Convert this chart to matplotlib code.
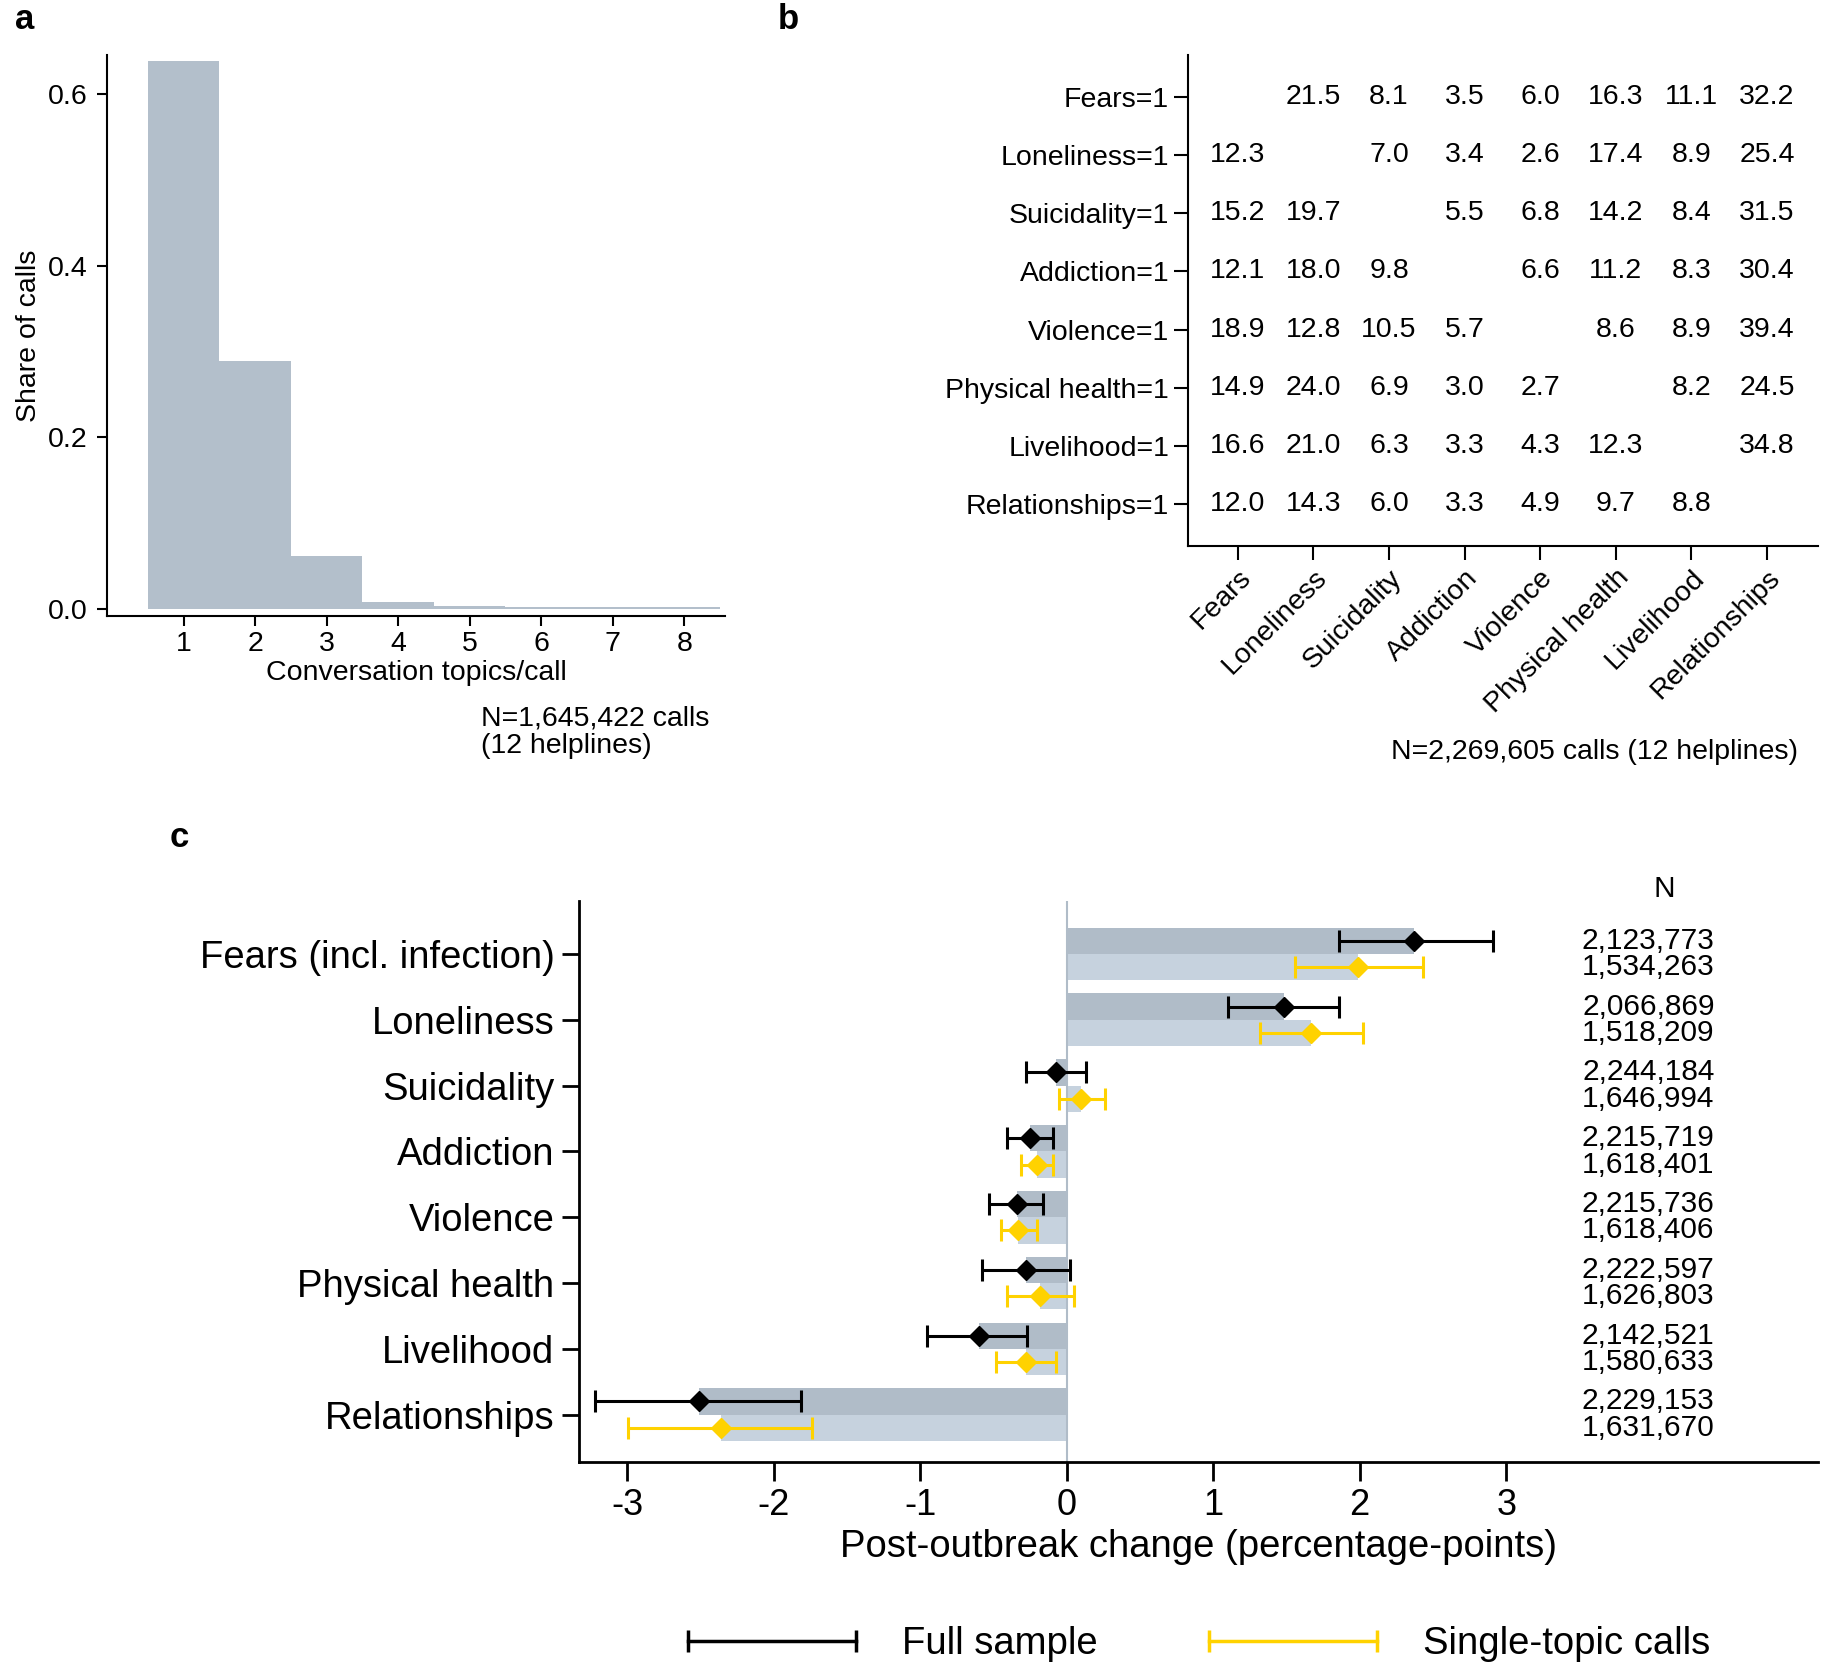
import numpy as np
import matplotlib
matplotlib.use("Agg")
import matplotlib.pyplot as plt
from matplotlib.lines import Line2D

plt.rcParams['font.family'] = ['Liberation Sans', 'DejaVu Sans']
plt.rcParams['axes.unicode_minus'] = False

# ---- Panel a data: distribution of topics per call
n_topics = [1, 2, 3, 4, 5, 6, 7, 8]
share_calls = [0.638, 0.289, 0.062, 0.008, 0.004, 0.003, 0.003, 0.003]

# ---- Panel b data: co-occurrence table (row topic = 1, column share in %)
topics = ["Fears", "Loneliness", "Suicidality", "Addiction", "Violence",
          "Physical health", "Livelihood", "Relationships"]
row_labels = [t + "=1" for t in topics]
cooc = [
    [None, 21.5, 8.1, 3.5, 6.0, 16.3, 11.1, 32.2],
    [12.3, None, 7.0, 3.4, 2.6, 17.4, 8.9, 25.4],
    [15.2, 19.7, None, 5.5, 6.8, 14.2, 8.4, 31.5],
    [12.1, 18.0, 9.8, None, 6.6, 11.2, 8.3, 30.4],
    [18.9, 12.8, 10.5, 5.7, None, 8.6, 8.9, 39.4],
    [14.9, 24.0, 6.9, 3.0, 2.7, None, 8.2, 24.5],
    [16.6, 21.0, 6.3, 3.3, 4.3, 12.3, None, 34.8],
    [12.0, 14.3, 6.0, 3.3, 4.9, 9.7, 8.8, None],
]

# ---- Panel c data: post-outbreak change (percentage points)
c_labels = ["Fears (incl. infection)", "Loneliness", "Suicidality", "Addiction",
            "Violence", "Physical health", "Livelihood", "Relationships"]
full_est = [2.37, 1.48, -0.07, -0.25, -0.34, -0.28, -0.60, -2.51]
full_lo = [1.86, 1.10, -0.28, -0.41, -0.53, -0.58, -0.95, -3.22]
full_hi = [2.91, 1.86, 0.13, -0.09, -0.16, 0.02, -0.27, -1.81]
single_est = [1.99, 1.67, 0.10, -0.20, -0.33, -0.18, -0.28, -2.36]
single_lo = [1.56, 1.32, -0.05, -0.31, -0.45, -0.41, -0.48, -2.99]
single_hi = [2.43, 2.02, 0.26, -0.09, -0.20, 0.05, -0.07, -1.74]
full_n = ["2,123,773", "2,066,869", "2,244,184", "2,215,719",
          "2,215,736", "2,222,597", "2,142,521", "2,229,153"]
single_n = ["1,534,263", "1,518,209", "1,646,994", "1,618,401",
            "1,618,406", "1,626,803", "1,580,633", "1,631,670"]

bar_col = '#b3bfcb'
dark_col = '#b0bcc8'
light_col = '#c6d2de'
gold = '#ffd200'

fs_ab = 20.5
fs_c = 27.5

fig = plt.figure(figsize=(18.22, 16.68), dpi=100)

# ---------------- Panel a
axa = fig.add_axes([0.0587, 0.6307, 0.3393, 0.3363])
axa.bar(n_topics, share_calls, width=1.0, color=bar_col, edgecolor='none')
axa.set_xlim(-0.07, 8.57)
axa.set_ylim(-0.008, 0.645)
axa.set_yticks([0, 0.2, 0.4, 0.6])
axa.set_yticklabels(["0.0", "0.2", "0.4", "0.6"])
axa.set_xticks(n_topics)
axa.tick_params(axis='y', labelsize=fs_ab, length=7, width=1.5, pad=7)
axa.tick_params(axis='x', labelsize=fs_ab, length=7, width=1.5, pad=4)
axa.set_xlabel("Conversation topics/call", fontsize=fs_ab, labelpad=2)
axa.set_ylabel("Share of calls", fontsize=fs_ab, labelpad=4)
for s in ['top', 'right']:
    axa.spines[s].set_visible(False)
for s in ['left', 'bottom']:
    axa.spines[s].set_linewidth(1.5)
fig.text(0.264, 0.577, "N=1,645,422 calls\n(12 helplines)", fontsize=fs_ab,
         ha='left', va='top', linespacing=1.05)
fig.text(0.008, 0.998, "a", fontsize=25, fontweight='bold', va='top')

# ---------------- Panel b
axb = fig.add_axes([0.652, 0.6727, 0.346, 0.2943])
axb.set_xlim(0.34, 8.68)
axb.set_ylim(8.72, 0.28)
pos = np.arange(1, len(topics) + 1)
axb.set_xticks(pos)
axb.set_xticklabels(topics, rotation=45, ha='right', rotation_mode='anchor')
axb.set_yticks(pos)
axb.set_yticklabels(row_labels)
axb.tick_params(labelsize=fs_ab, length=10, width=1.5)
for i, row in enumerate(cooc):
    for j, v in enumerate(row):
        if v is not None:
            axb.text(pos[j], pos[i], f"{v:.1f}", ha='center', va='center', fontsize=fs_ab)
for s in ['top', 'right']:
    axb.spines[s].set_visible(False)
for s in ['left', 'bottom']:
    axb.spines[s].set_linewidth(1.5)
fig.text(0.987, 0.549, "N=2,269,605 calls (12 helplines)", fontsize=fs_ab,
         ha='right', va='center')
fig.text(0.427, 0.998, "b", fontsize=25, fontweight='bold', va='top')

# ---------------- Panel c
axc = fig.add_axes([0.318, 0.1235, 0.680, 0.3365])
y = np.arange(len(c_labels))
full_est_a = np.array(full_est)
single_est_a = np.array(single_est)
axc.barh(y - 0.2, full_est_a, height=0.4, color=dark_col, edgecolor='none')
axc.barh(y + 0.2, single_est_a, height=0.4, color=light_col, edgecolor='none')
axc.axvline(0, color=dark_col, lw=1.5, zorder=1)
axc.errorbar(full_est_a, y - 0.2,
             xerr=[full_est_a - np.array(full_lo), np.array(full_hi) - full_est_a],
             fmt='D', color='black', ecolor='black', ms=10, elinewidth=2.2,
             capsize=8, capthick=2.2, zorder=3)
axc.errorbar(single_est_a, y + 0.2,
             xerr=[single_est_a - np.array(single_lo), np.array(single_hi) - single_est_a],
             fmt='D', color=gold, ecolor=gold, ms=10, elinewidth=2.2,
             capsize=8, capthick=2.2, zorder=3)
for i in range(len(c_labels)):
    axc.text(3.97, y[i] - 0.2, full_n[i], ha='center', va='center', fontsize=21.5)
    axc.text(3.97, y[i] + 0.2, single_n[i], ha='center', va='center', fontsize=21.5)
axc.text(4.08, -0.99, "N", ha='center', va='center', fontsize=21.5, clip_on=False)
axc.set_xlim(-3.325, 5.13)
axc.set_ylim(7.72, -0.81)
axc.set_xticks([-3, -2, -1, 0, 1, 2, 3])
axc.set_yticks(y)
axc.set_yticklabels(c_labels)
axc.tick_params(axis='y', labelsize=fs_c, length=12, width=2, pad=6)
axc.tick_params(axis='x', labelsize=26, length=14, width=2, pad=5)
axc.set_xlabel("Post-outbreak change (percentage-points)", fontsize=fs_c, labelpad=4)
for s in ['top', 'right']:
    axc.spines[s].set_visible(False)
for s in ['left', 'bottom']:
    axc.spines[s].set_linewidth(2)
fig.text(0.093, 0.498, "c", fontsize=25, fontweight='bold', va='center')

handles = [Line2D([], [], color='black', lw=2.5, marker='|', ms=16, mew=2.5),
           Line2D([], [], color=gold, lw=2.5, marker='|', ms=16, mew=2.5)]
fig.legend(handles, ["Full sample", "Single-topic calls"], loc='center',
           bbox_to_anchor=(0.655, 0.0144), ncol=2, frameon=False, fontsize=fs_c,
           numpoints=2, handlelength=5.0, handletextpad=0.9, columnspacing=2.6)

fig.savefig("out.png", dpi=100)
